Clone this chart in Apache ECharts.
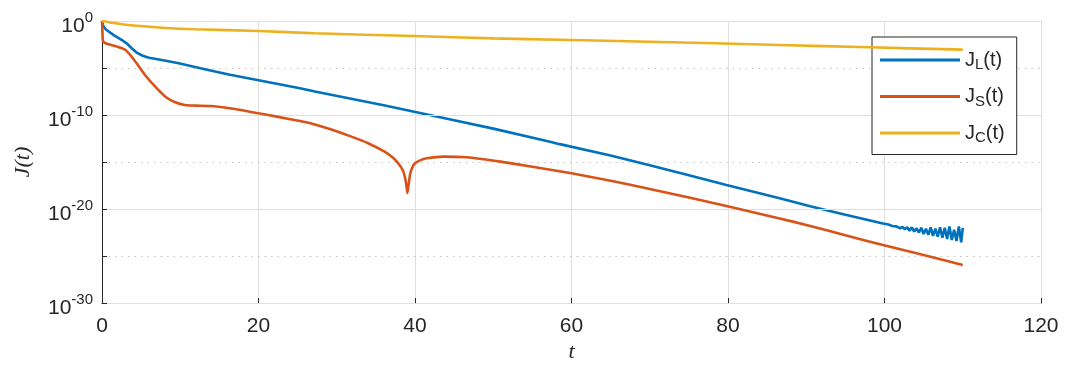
<!DOCTYPE html>
<html>
<head>
<meta charset="utf-8">
<script src="https://cdn.jsdelivr.net/npm/echarts@6/dist/echarts.min.js"></script>
<style>html,body{margin:0;padding:0;background:#fff}#c{width:1068px;height:367px}</style>
</head>
<body>
<div id="c"></div>
<script>
// t values and log10(J) values (decades)
var tL = [0,0.15,0.5,1.5,2.5,3.2,3.8,4.5,5.2,6,8,9.8,13,16.2,20,25.3,27.2,32,36,39.9,45,50,57.25,58.5,65,70,75,79.8,86.6,90.5,95,99.8,
  100.5,101,101.5,102,102.3,102.6,102.9,103.2,103.5,103.8,104.1,104.4,104.7,105,105.3,105.6,105.9,106.2,106.5,106.8,107.1,107.4,107.7,108,108.3,108.6,108.9,109.2,109.5,109.8,110];
var logL = [0,-0.5,-0.9,-1.5,-2.0,-2.4,-2.9,-3.4,-3.7,-3.9,-4.2,-4.5,-5.1,-5.7,-6.3,-7.16,-7.5,-8.3,-8.97,-9.65,-10.55,-11.45,-12.84,-13.1,-14.3,-15.35,-16.4,-17.45,-18.86,-19.7,-20.6,-21.55,
  -21.65,-21.8,-21.85,-22.05,-21.9,-22.15,-21.95,-22.3,-21.95,-22.4,-22.05,-22.5,-22.0,-22.65,-22.1,-22.75,-21.95,-22.85,-22.1,-22.95,-21.95,-23.05,-22.0,-23.2,-21.85,-23.3,-22.2,-23.4,-21.85,-23.55,-22.0];

var tS = [0,0.05,0.12,0.4,0.85,2,3,3.8,4.6,5.5,6.8,8.1,9.36,10.6,12,14,17,20,22.5,25.3,27.2,29.5,31.7,34,36,37.2,38,38.5,38.85,39.03,39.2,39.4,39.7,40,40.7,41.5,43.6,46.6,50.9,55,60,65,70,75,79.8,86.6,90.5,95,99.8,105,110];
var logS = [0,-1.0,-2.1,-2.35,-2.48,-2.75,-3.09,-3.8,-4.7,-5.74,-6.99,-8.05,-8.65,-8.94,-9.0,-9.05,-9.36,-9.82,-10.2,-10.64,-11.0,-11.6,-12.25,-13.0,-13.85,-14.55,-15.3,-16.0,-17.2,-18.3,-17.3,-16.2,-15.5,-15.14,-14.8,-14.6,-14.43,-14.5,-14.96,-15.5,-16.2,-17.0,-17.87,-18.78,-19.68,-21.0,-21.8,-22.8,-23.83,-24.9,-25.95];

var tC = [0,0.5,1,3.4,7.66,12,20,27.2,40,50,58.5,70,86.6,98.1,110];
var logC = [0,-0.06,-0.15,-0.43,-0.71,-0.88,-1.06,-1.31,-1.6,-1.85,-2.0,-2.2,-2.55,-2.8,-3.05];

var xTicks = [0,20,40,60,80,100,120];
var yMinExp = -30, yMaxExp = 0, yTickStep = 5;   // decades
var colors = ['#0072BD','#D95319','#EDB120'];

function pts(t, lg){ return t.map(function(v,i){ return [v, lg[i]]; }); }

var chart = echarts.init(document.getElementById('c'));
var fontFam = 'Liberation Sans, Arial, sans-serif';
var txtCol = '#262626';

var baseY = {type: 'value', min: yMinExp, max: yMaxExp, interval: yTickStep};

var option = {
  animation: false,
  grid: {left: 102, right: 27, top: 21, bottom: 64, containLabel: false, outerBoundsMode: 'none'},
  xAxis: {
    type: 'value', min: xTicks[0], max: xTicks[xTicks.length-1], interval: 20,
    axisLine: {show: true, onZero: false, lineStyle: {color: txtCol, width: 1}},
    axisTick: {show: true, inside: true, length: 5, lineStyle: {color: txtCol}},
    axisLabel: {color: txtCol, fontSize: 21, fontFamily: fontFam, margin: 13, showMinLabel: true, showMaxLabel: true},
    splitLine: {show: true, lineStyle: {color: '#dfdfdf', width: 1}},
    name: 't', nameLocation: 'middle', nameGap: 38, nameMoveOverlap: false,
    nameTextStyle: {fontFamily: 'Liberation Serif, DejaVu Serif, serif', fontStyle: 'italic', fontSize: 22, color: txtCol}
  },
  yAxis: [
    Object.assign({}, baseY, {
      position: 'left', z: 3,
      axisLine: {show: true, onZero: false, lineStyle: {color: txtCol, width: 1}},
      axisTick: {show: true, inside: true, length: 5, lineStyle: {color: txtCol}},
      axisLabel: {
        color: txtCol, fontFamily: fontFam, margin: 9, showMinLabel: true, showMaxLabel: true,
        formatter: function(v){
          var e = Math.round(v);
          if (e % 10 !== 0) return '';
          return '{b|10}{s|' + (e === 0 ? 0 : e) + '}';
        },
        rich: {
          b: {fontSize: 21, fontFamily: fontFam, color: txtCol, padding: [10,0,0,0]},
          s: {fontSize: 15, fontFamily: fontFam, color: txtCol, padding: [0,0,6,0]}
        }
      },
      splitLine: {show: true, lineStyle: {color: ['#dfdfdf','rgba(0,0,0,0)'], width: 1}},
      name: 'J(t)', nameLocation: 'middle', nameGap: 68, nameRotate: 90, nameMoveOverlap: false,
      nameTextStyle: {fontFamily: 'Liberation Serif, DejaVu Serif, serif', fontStyle: 'italic', fontSize: 22, color: txtCol}
    }),
    Object.assign({}, baseY, {
      position: 'left', offset: 0, z: 1,
      axisLine: {show: false, onZero: false}, axisTick: {show: false}, axisLabel: {show: false},
      splitLine: {show: true, lineStyle: {color: ['rgba(0,0,0,0)','#c4c4c4'], width: 1.2, type: [1.5, 5]}}
    })
  ],
  legend: {
    left: 872, top: 37, orient: 'vertical',
    padding: [13, 12, 9, 8], itemGap: 14, itemWidth: 80, itemHeight: 3,
    icon: 'rect',
    backgroundColor: '#fff', borderColor: txtCol, borderWidth: 1, borderRadius: 0,
    data: ['L','S','C'],
    formatter: function(n){ return '{b|J}{s|' + n + '}{b|(t)}'; },
    textStyle: {
      color: txtCol,
      rich: {
        b: {fontSize: 20, fontFamily: fontFam, color: txtCol},
        s: {fontSize: 15, fontFamily: fontFam, color: txtCol, padding: [10,0,0,0]}
      }
    }
  },
  series: [
    {name: 'L', type: 'line', data: pts(tL, logL), showSymbol: false, symbol: 'none',
     lineStyle: {color: colors[0], width: 2.6}, itemStyle: {color: colors[0]}, z: 2},
    {name: 'S', type: 'line', data: pts(tS, logS), showSymbol: false, symbol: 'none', smooth: 0.2,
     lineStyle: {color: colors[1], width: 2.6}, itemStyle: {color: colors[1]}, z: 3},
    {name: 'C', type: 'line', data: pts(tC, logC), showSymbol: false, symbol: 'none', smooth: 0.3,
     lineStyle: {color: colors[2], width: 2.6}, itemStyle: {color: colors[2]}, z: 4}
  ]
};
chart.setOption(option);
</script>
</body>
</html>
